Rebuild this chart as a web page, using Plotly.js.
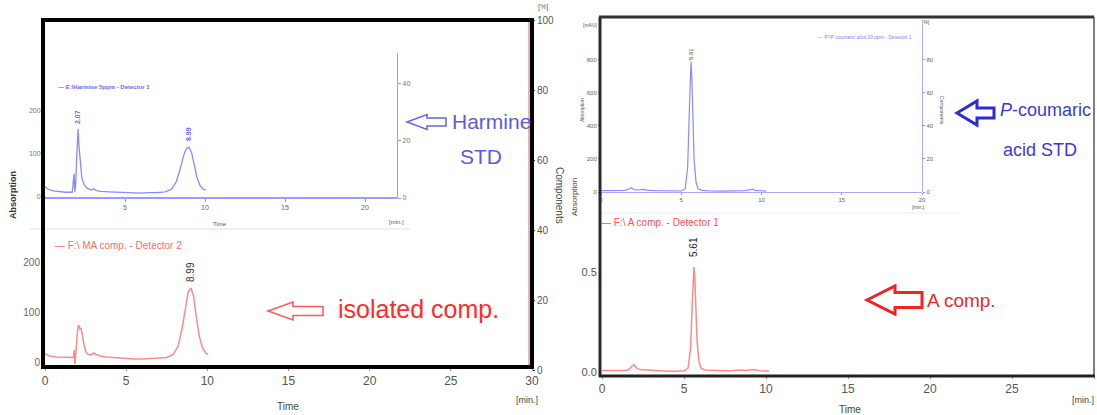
<!DOCTYPE html>
<html>
<head>
<meta charset="utf-8">
<script src="https://cdn.plot.ly/plotly-3.0.1.min.js"></script>
<style>html,body{margin:0;padding:0;background:#fff;}#chart{width:1097px;height:415px;}</style>
</head>
<body>
<div id="chart"></div>
<script>
// ---------- DATA ----------
// Left inset: Harmine standard (blue), absorption in mAU vs time (min)
const harmineStdTime = [0, 0.2, 0.5, 0.9, 1.3, 1.7, 1.78, 1.82, 1.86, 1.92, 1.98, 2.03, 2.07, 2.12, 2.2, 2.3, 2.45, 2.65, 2.9, 3.05, 3.2, 3.5, 4.0, 4.5, 5.0, 5.5, 6.0, 6.5, 7.0, 7.5, 7.9, 8.2, 8.45, 8.65, 8.82, 8.99, 9.15, 9.3, 9.5, 9.7, 9.9, 10.05];
const harmineStdAbs  = [24, 18, 14, 12, 11, 11, 40, 54, 12, 30, 90, 140, 158, 120, 75, 45, 28, 20, 16, 19, 15, 13, 12, 11, 10, 9, 9, 10, 10, 12, 18, 35, 65, 95, 112, 116, 105, 80, 45, 26, 18, 16];
// Left main: isolated MA compound (red)
const isoMaTime = [0, 0.3, 0.7, 1.2, 1.6, 1.75, 1.8, 1.84, 1.88, 1.95, 2.02, 2.08, 2.15, 2.22, 2.3, 2.4, 2.5, 2.62, 2.8, 3.0, 3.15, 3.4, 3.8, 4.5, 5.0, 5.5, 6.0, 6.5, 7.0, 7.5, 7.9, 8.2, 8.45, 8.65, 8.82, 8.99, 9.15, 9.3, 9.5, 9.7, 9.9, 10.05];
const isoMaAbs  = [16, 12, 10, 9, 8, 9, 24, -4, 10, 40, 68, 74, 66, 68, 50, 35, 22, 16, 14, 18, 15, 12, 10, 8, 7, 6, 6, 7, 7, 9, 15, 32, 68, 112, 140, 148, 132, 95, 52, 28, 18, 15];
// Right inset: P-coumaric acid standard (blue)
const coumStdTime = [0, 0.5, 1.0, 1.5, 1.75, 1.9, 2.05, 2.3, 2.6, 3.0, 3.5, 4.0, 4.5, 5.0, 5.25, 5.4, 5.5, 5.56, 5.61, 5.66, 5.72, 5.8, 5.92, 6.05, 6.3, 6.8, 7.5, 8.0, 8.5, 9.0, 9.3, 9.45, 9.6, 9.9, 10.3];
const coumStdAbs  = [8, 8, 6, 10, 18, 26, 14, 12, 16, 10, 8, 6, 7, 6, 20, 150, 480, 720, 790, 700, 460, 200, 60, 20, 10, 6, 5, 6, 6, 8, 14, 18, 10, 6, 5];
// Right main: A compound (red)
const aCompTime = [0, 0.5, 1.0, 1.5, 1.7, 1.85, 1.95, 2.1, 2.3, 2.6, 3.0, 3.5, 4.0, 4.5, 5.0, 5.25, 5.4, 5.5, 5.56, 5.61, 5.66, 5.72, 5.8, 5.92, 6.05, 6.3, 6.8, 7.5, 8.0, 8.5, 8.8, 9.2, 9.4, 9.6, 9.9, 10.2];
const aCompAbs  = [0.008, 0.008, 0.007, 0.008, 0.015, 0.032, 0.035, 0.02, 0.012, 0.01, 0.009, 0.007, 0.004, 0.004, 0.006, 0.02, 0.12, 0.33, 0.48, 0.525, 0.47, 0.32, 0.15, 0.05, 0.018, 0.01, 0.007, 0.006, 0.007, 0.01, 0.007, 0.012, 0.01, 0.006, 0.005, 0.005];

// Tick values / labels
const mainTimeTicks = [0, 5, 10, 15, 20, 25, 30];
const leftInsetTimeTicks = [5, 10, 15, 20];
const rightInsetTimeTicks = [0, 5, 10, 15, 20];
const leftMainAbsTicks = [0, 100, 200];
const leftInsetAbsTicks = [0, 100, 200];
const componentTicks = [0, 20, 40, 60, 80, 100];
const leftInsetCompTicks = [0, 20, 40];
const rightInsetAbsTicks = [0, 200, 400, 600, 800];
const rightInsetCompTicks = [0, 20, 40, 60, 80];
const rightMainAbsTicks = [0, 0.5];
const rightMainAbsText = ['0.0', '0.5'];

// Peak labels
const peakLabels = {harmineStd: ['2.07', '8.99'], isoMa: ['8.99'], coumStd: ['5.61'], aComp: ['5.61']};

// ---------- LAYOUT HELPERS ----------
const W = 1097, H = 415;
const fx = p => p / W;
const fy = p => 1 - p / H;
const NARROW = '"Liberation Sans Narrow", "Arial Narrow", "Liberation Sans", Arial, sans-serif';
const SANS = '"Liberation Sans", Arial, sans-serif';
const BLUE = '#8a8aff', RED = '#ff8a8a';

const traces = [
  {x: isoMaTime, y: isoMaAbs, xaxis: 'x', yaxis: 'y', type: 'scatter', mode: 'lines', line: {color: RED, width: 1.5}, hoverinfo: 'skip'},
  {x: [], y: [], xaxis: 'x', yaxis: 'y2', type: 'scatter', mode: 'lines', hoverinfo: 'skip'},
  {x: harmineStdTime, y: harmineStdAbs, xaxis: 'x2', yaxis: 'y3', type: 'scatter', mode: 'lines', line: {color: BLUE, width: 1.3}, hoverinfo: 'skip'},
  {x: [], y: [], xaxis: 'x2', yaxis: 'y4', type: 'scatter', mode: 'lines', hoverinfo: 'skip'},
  {x: aCompTime, y: aCompAbs, xaxis: 'x3', yaxis: 'y5', type: 'scatter', mode: 'lines', line: {color: RED, width: 1.5}, hoverinfo: 'skip'},
  {x: coumStdTime, y: coumStdAbs, xaxis: 'x4', yaxis: 'y6', type: 'scatter', mode: 'lines', line: {color: BLUE, width: 1.2}, hoverinfo: 'skip'},
  {x: [], y: [], xaxis: 'x4', yaxis: 'y7', type: 'scatter', mode: 'lines', hoverinfo: 'skip'}
];

const baseAx = {showgrid: false, zeroline: false, showline: false, ticks: 'outside', fixedrange: true};

const layout = {
  width: W, height: H,
  margin: {l: 0, r: 0, t: 0, b: 0},
  paper_bgcolor: '#fff', plot_bgcolor: 'rgba(0,0,0,0)',
  showlegend: false,
  // left main (red)
  xaxis: Object.assign({}, baseAx, {domain: [fx(45), fx(532)], range: [0, 30], anchor: 'y', tickvals: mainTimeTicks, ticklen: 3, tickcolor: '#f07070', tickfont: {family: SANS, size: 12, color: '#555'}}),
  yaxis: Object.assign({}, baseAx, {domain: [fy(367), fy(232)], range: [-10, 260], anchor: 'x', tickvals: leftMainAbsTicks, ticklen: 2, tickcolor: '#f07070', tickfont: {family: SANS, size: 10, color: '#666'}}),
  yaxis2: Object.assign({}, baseAx, {domain: [fy(370), fy(20)], range: [0, 100], anchor: 'x', side: 'right', tickvals: componentTicks, ticklen: 2, tickcolor: '#333', tickfont: {family: SANS, size: 10, color: '#555'}}),
  // left inset (blue)
  xaxis2: Object.assign({}, baseAx, {domain: [fx(45), fx(397)], range: [0, 22], anchor: 'y3', tickvals: leftInsetTimeTicks, ticklen: 3, tickcolor: '#8a8aff', showline: true, linecolor: '#9a9aff', linewidth: 1.5, tickfont: {family: SANS, size: 7, color: '#666'}}),
  yaxis3: Object.assign({}, baseAx, {domain: [fy(197), fy(53)], range: [0, 335], anchor: 'x2', tickvals: leftInsetAbsTicks, ticklen: 2, tickcolor: '#888', tickfont: {family: SANS, size: 7, color: '#777'}}),
  yaxis4: Object.assign({}, baseAx, {domain: [fy(198), fy(53)], range: [0, 50.8], anchor: 'x2', side: 'right', tickvals: leftInsetCompTicks, ticklen: 3, tickcolor: '#8a8aff', showline: true, linecolor: '#9a9aff', linewidth: 1.2, tickfont: {family: SANS, size: 7, color: '#777'}}),
  // right main (red)
  xaxis3: Object.assign({}, baseAx, {domain: [fx(602), fx(1094)], range: [0, 30], anchor: 'y5', tickvals: mainTimeTicks, ticklen: 2, tickcolor: '#f07070', tickfont: {family: SANS, size: 12, color: '#555'}}),
  yaxis5: Object.assign({}, baseAx, {domain: [fy(376), fy(232)], range: [-0.02, 0.7], anchor: 'x3', tickvals: rightMainAbsTicks, ticktext: rightMainAbsText, ticklen: 2, tickcolor: '#888', tickfont: {family: SANS, size: 11, color: '#555'}}),
  // right inset (blue)
  xaxis4: Object.assign({}, baseAx, {domain: [fx(601), fx(922)], range: [0, 20], anchor: 'y6', tickvals: rightInsetTimeTicks, ticklen: 2, tickcolor: '#8a8aff', showline: true, linecolor: '#aaaaff', linewidth: 1, tickfont: {family: SANS, size: 6, color: '#666'}}),
  yaxis6: Object.assign({}, baseAx, {domain: [fy(192), fy(17)], range: [0, 1060], anchor: 'x4', tickvals: rightInsetAbsTicks, ticklen: 2, tickcolor: '#888', tickfont: {family: SANS, size: 6, color: '#666'}}),
  yaxis7: Object.assign({}, baseAx, {domain: [fy(192), fy(25)], range: [0, 101], anchor: 'x4', side: 'right', tickvals: rightInsetCompTicks, ticklen: 2, tickcolor: '#8a8aff', showline: true, linecolor: '#aaaaff', linewidth: 1.2, tickfont: {family: SANS, size: 6, color: '#666'}}),
  shapes: [],
  annotations: []
};

function line(x0, y0, x1, y1, color, width) {
  layout.shapes.push({type: 'line', xref: 'paper', yref: 'paper', x0: fx(x0), y0: fy(y0), x1: fx(x1), y1: fy(y1), line: {color: color, width: width}});
}
function arrowLeft(tip, yc, headX, hh, sh, tail, color, width) {
  const p = (x, y) => fx(x) + ',' + fy(y);
  const path = 'M' + p(tip, yc) + ' L' + p(headX, yc - hh) + ' L' + p(headX, yc - sh) + ' L' + p(tail, yc - sh) +
               ' L' + p(tail, yc + sh) + ' L' + p(headX, yc + sh) + ' L' + p(headX, yc + hh) + ' Z';
  layout.shapes.push({type: 'path', xref: 'paper', yref: 'paper', path: path, line: {color: color, width: width}, fillcolor: 'rgba(255,255,255,0)'});
}
function text(t, x, y, opts) {
  layout.annotations.push(Object.assign({text: t, x: fx(x), y: fy(y), xref: 'paper', yref: 'paper', showarrow: false,
    xanchor: 'center', yanchor: 'middle', font: {family: SANS, size: 10, color: '#333'}}, opts || {}));
}

// separators (light gray)
line(30, 229, 410, 229, '#e2e2e2', 1);
line(600, 213, 960, 213, '#ececec', 1);
// left black frame
layout.shapes.push({type: 'rect', xref: 'paper', yref: 'paper', x0: fx(43), x1: fx(532), y0: fy(367), y1: fy(20), line: {color: '#000', width: 4}});
line(529, 22, 529, 365, '#c07070', 1);
// right frame
line(600, 17, 600, 377, '#2a2a2a', 3);
line(599, 17, 1094, 17, '#333', 3);
line(1094, 17, 1094, 377, '#555', 1.5);
line(599, 376, 1095, 376, '#222', 3);

// arrows
arrowLeft(407, 122, 427, 7.5, 4, 446, '#6464e6', 1.5);
arrowLeft(268, 311, 293, 9, 4.5, 323, '#ff5a5a', 1.5);
arrowLeft(957, 113, 977, 12, 5, 994, '#2c2cd2', 3);
arrowLeft(867, 300, 895, 14, 7.5, 922, '#ee2424', 3);

// big labels
text('Harmine', 491, 121, {font: {family: SANS, size: 21, color: '#5a5ae4'}});
text('STD', 481, 156, {font: {family: SANS, size: 21, color: '#5a5ae4'}});
text('isolated comp.', 418, 309, {font: {family: SANS, size: 25, color: '#ff2a2a'}});
text('<i>P</i>-coumaric', 1045, 110, {font: {family: SANS, size: 18, color: '#3a3ad6'}});
text('acid STD', 1040, 150, {font: {family: SANS, size: 18, color: '#3a3ad6'}});
text('A comp.', 962, 300, {font: {family: SANS, size: 19, color: '#e82a2a'}});

// legends
text('— F:\\ MA comp. - Detector 2', 118, 245, {font: {family: SANS, size: 10, color: '#ff6a6a'}});
text('— F:\\ A comp. - Detector 1', 660, 222, {font: {family: SANS, size: 10, color: '#ff5050'}});
text('<b>— E:\\Harmine 5ppm - Detector 1</b>', 104, 87, {font: {family: SANS, size: 6, color: '#6a6af0'}});
text('— P:\\P coumaric acid 20 ppm - Detector 1', 865, 37, {font: {family: SANS, size: 5, color: '#8080ff'}});

// peak labels
text('<b>' + peakLabels.harmineStd[0] + '</b>', 77, 117, {textangle: -90, font: {family: SANS, size: 7, color: '#6a6af0'}});
text('<b>' + peakLabels.harmineStd[1] + '</b>', 188, 134, {textangle: -90, font: {family: SANS, size: 7, color: '#6a6af0'}});
text(peakLabels.isoMa[0], 190, 272, {textangle: -90, font: {family: SANS, size: 10, color: '#333'}});
text(peakLabels.coumStd[0], 691, 54, {textangle: -90, font: {family: SANS, size: 6, color: '#444'}});
text(peakLabels.aComp[0], 693, 247, {textangle: -90, font: {family: SANS, size: 10, color: '#222'}});

// axis titles
text('<b>Absorption</b>', 13, 195, {textangle: -90, font: {family: SANS, size: 9, color: '#333'}});
text('Components', 560, 195, {textangle: 90, font: {family: SANS, size: 10, color: '#444'}});
text('Absorption', 574, 197, {textangle: -90, font: {family: SANS, size: 8, color: '#444'}});
text('Absorption', 582, 110, {textangle: -90, font: {family: SANS, size: 5, color: '#555'}});
text('Components', 942, 110, {textangle: 90, font: {family: SANS, size: 5, color: '#555'}});
text('Time', 288, 406, {font: {family: SANS, size: 10, color: '#444'}});
text('[min.]', 527, 400, {font: {family: SANS, size: 9, color: '#444'}});
text('Time', 850, 409, {font: {family: SANS, size: 10, color: '#444'}});
text('[min.]', 1096, 400, {xanchor: 'right', font: {family: SANS, size: 9, color: '#444'}});
text('Time', 220, 224, {font: {family: SANS, size: 6, color: '#555'}});
text('[min.]', 396, 222, {font: {family: SANS, size: 6, color: '#555'}});
text('[min.]', 918, 207, {font: {family: SANS, size: 5, color: '#555'}});
text('[mAU]', 590, 25, {font: {family: SANS, size: 5, color: '#555'}});
text('[%]', 926, 22, {font: {family: SANS, size: 5, color: '#555'}});
text('[%]', 543, 7, {font: {family: SANS, size: 7, color: '#666'}});

Plotly.newPlot('chart', traces, layout, {staticPlot: true, displayModeBar: false});
</script>
</body>
</html>
